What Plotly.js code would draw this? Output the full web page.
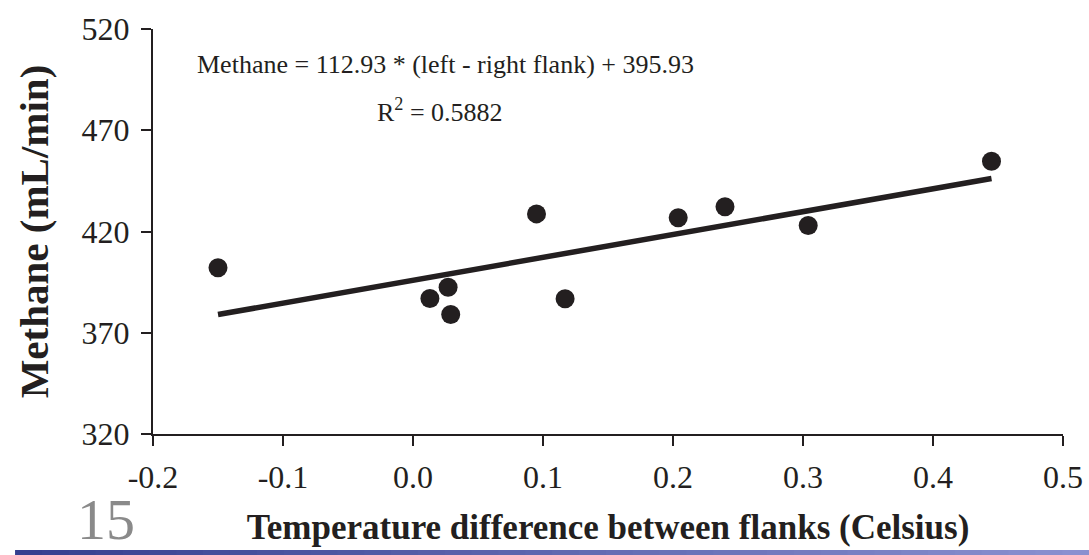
<!DOCTYPE html>
<html>
<head>
<meta charset="utf-8">
<script src="https://cdn.plot.ly/plotly-3.0.1.min.js"></script>
<style>html,body{margin:0;padding:0;background:#fff;}#chart{width:1089px;height:555px;}</style>
</head>
<body>
<div id="chart"></div>
<script>
// Data
const tempDiff = [-0.150, 0.013, 0.027, 0.029, 0.095, 0.117, 0.204, 0.240, 0.304, 0.445];
const methane  = [402.1, 386.9, 392.5, 379.0, 428.7, 386.8, 426.8, 432.2, 423.0, 454.7];
const fitSlope = 112.93;
const fitIntercept = 395.93;
const xTicks = [-0.2, -0.1, 0.0, 0.1, 0.2, 0.3, 0.4, 0.5];
const xTickLabels = ["-0.2", "-0.1", "0.0", "0.1", "0.2", "0.3", "0.4", "0.5"];
const yTicks = [320, 370, 420, 470, 520];
const slideNumber = "15";

const xMin = Math.min(...tempDiff), xMax = Math.max(...tempDiff);
const fitX = [xMin, xMax];
const fitY = fitX.map(v => fitSlope * v + fitIntercept);

const ink = '#231f20';
const serif = 'Liberation Serif, Times New Roman, serif';

const traces = [
  {x: fitX, y: fitY, mode: 'lines', type: 'scatter',
   line: {color: ink, width: 5.5}, hoverinfo: 'skip', showlegend: false},
  {x: tempDiff, y: methane, mode: 'markers', type: 'scatter',
   marker: {color: ink, size: 19}, showlegend: false}
];

// bottom gradient bar
const shapes = [];
const nSeg = 40, x0p = -0.1516, x1p = 1.0286;
const c0 = [53, 63, 143], c1 = [138, 144, 208];
for (let i = 0; i < nSeg; i++) {
  const t = i / (nSeg - 1);
  const c = c0.map((v, k) => Math.round(v + (c1[k] - v) * t));
  shapes.push({type: 'rect', xref: 'paper', yref: 'paper',
    x0: x0p + (x1p - x0p) * i / nSeg, x1: x0p + (x1p - x0p) * (i + 1) / nSeg + 0.001,
    y0: -0.2988, y1: -0.2864, line: {width: 0}, fillcolor: `rgb(${c.join(',')})`});
}

const layout = {
  width: 1089, height: 555,
  margin: {l: 153, r: 26, t: 29, b: 121},
  paper_bgcolor: '#fff', plot_bgcolor: '#fff',
  showlegend: false,
  font: {family: serif, color: ink},
  xaxis: {
    range: [-0.2, 0.5], tickvals: xTicks, ticktext: xTickLabels,
    showgrid: false, zeroline: false, showline: true, linecolor: ink, linewidth: 2,
    ticks: 'outside', ticklen: 10, tickwidth: 2, tickcolor: ink,
    ticklabelstandoff: 4,
    tickfont: {family: serif, size: 32, color: ink},
    title: {text: '<b>Temperature difference between flanks (Celsius)</b>',
      font: {family: serif, size: 35, color: ink}, standoff: 20},
    automargin: false
  },
  yaxis: {
    range: [320, 520], tickvals: yTicks,
    showgrid: false, zeroline: false, showline: true, linecolor: ink, linewidth: 2,
    ticks: 'outside', ticklen: 10, tickwidth: 2, tickcolor: ink,
    ticklabelstandoff: 5,
    tickfont: {family: serif, size: 32, color: ink},
    title: {text: '<b>Methane (mL/min)</b>',
      font: {family: serif, size: 41, color: ink}, standoff: 20},
    automargin: false
  },
  shapes: shapes,
  annotations: [
    {x: 0.025, y: 502.5, xref: 'x', yref: 'y', showarrow: false,
     text: 'Methane = 112.93 * (left - right flank) + 395.93',
     font: {family: serif, size: 26, color: ink}},
    {x: 0.021, y: 480, xref: 'x', yref: 'y', showarrow: false,
     text: 'R<sup>2</sup> = 0.5882',
     font: {family: serif, size: 26, color: ink}},
    {x: -0.0516, y: -0.21, xref: 'paper', yref: 'paper', showarrow: false,
     xanchor: 'center', yanchor: 'middle',
     text: slideNumber, font: {family: serif, size: 58, color: '#8a8a8a'}}
  ]
};

Plotly.newPlot('chart', traces, layout, {displayModeBar: false, staticPlot: true});
</script>
</body>
</html>
